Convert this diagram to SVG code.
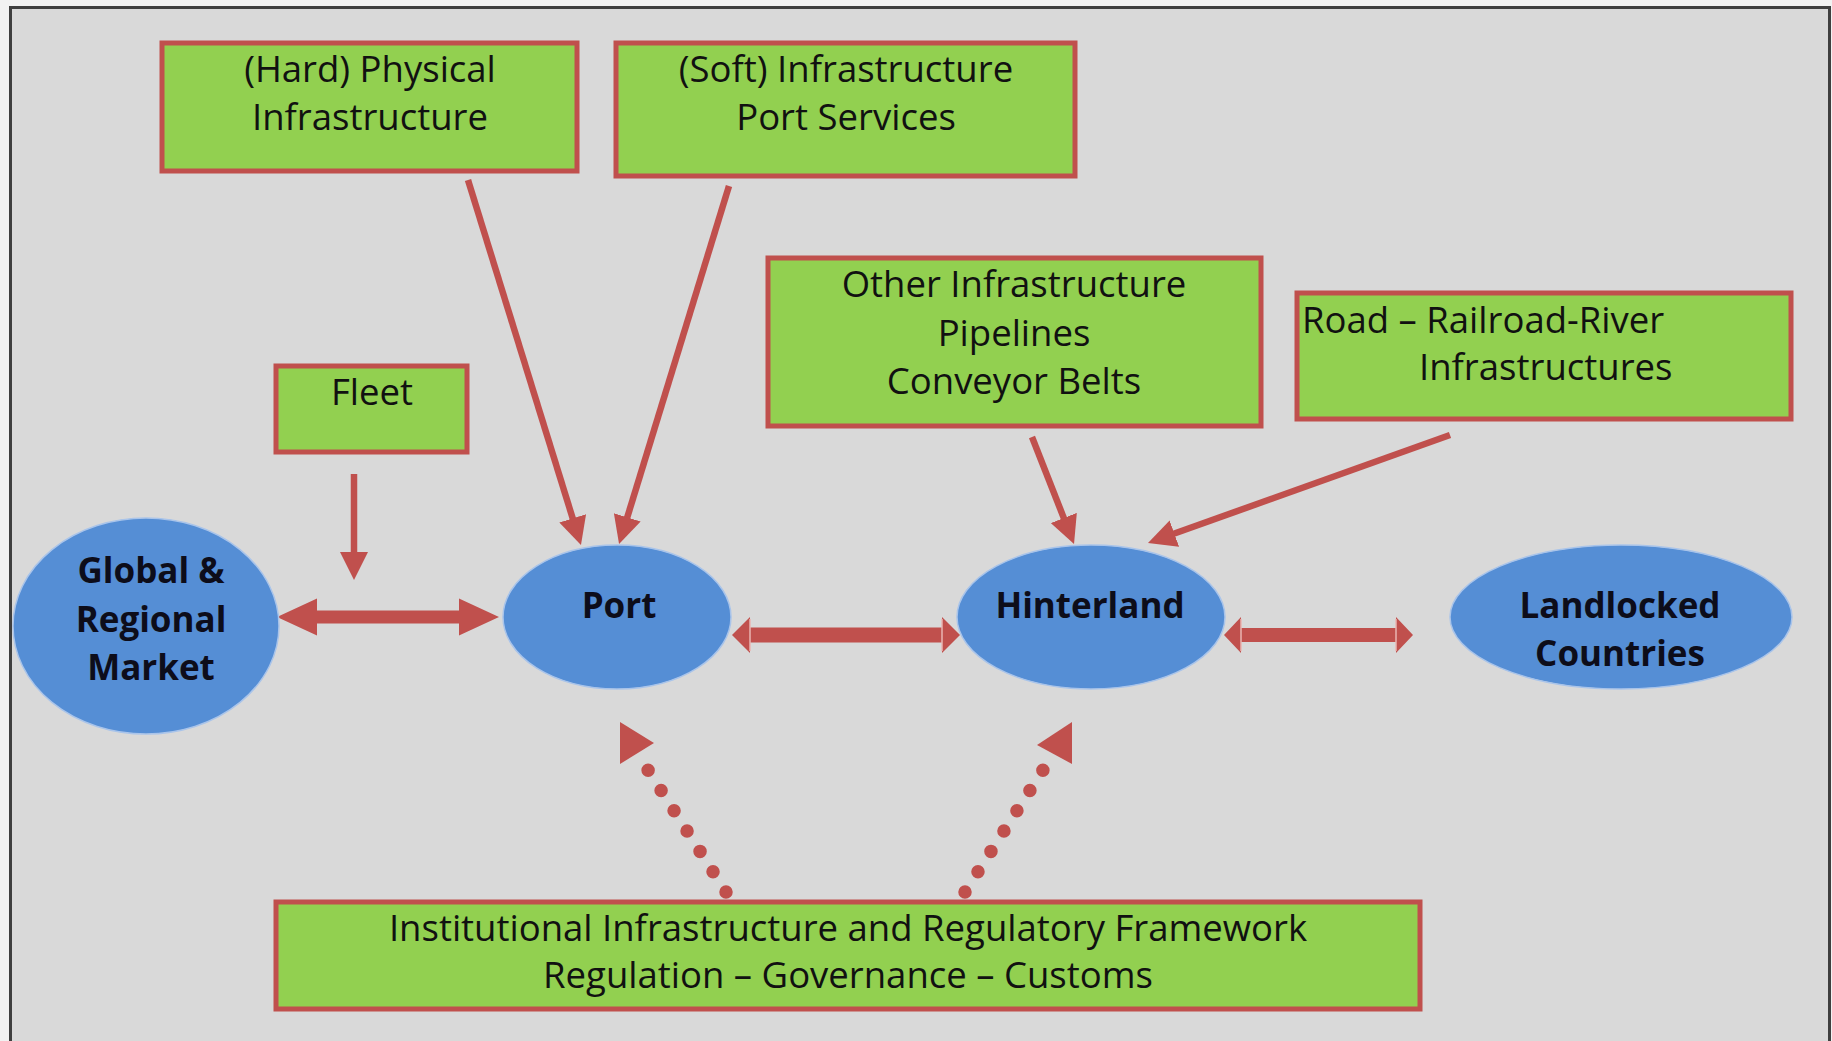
<svg xmlns="http://www.w3.org/2000/svg" width="1832" height="1041" viewBox="0 0 1832 1041">
<defs>
<style>
.box{fill:#92d050;stroke:#c0504d;stroke-width:5}
.ell{fill:#558ed5;stroke:#a9c4ea;stroke-width:1.5}
.bt{font-family:"Open Sans","Liberation Sans",sans-serif;font-size:36.5px;fill:#111}
.et{font-family:"Open Sans","Liberation Sans",sans-serif;font-size:35px;font-weight:bold;fill:#0d0d1a;text-anchor:middle}
.c{text-anchor:middle}
.ln{stroke:#c0504d;stroke-width:6.5;fill:none}
.dot{stroke:#c0504d;stroke-width:13.5;stroke-linecap:round;stroke-dasharray:0 24.1;fill:none}
.red{fill:#c0504d}
.hl{stroke:#eab4b2;stroke-width:1.5}
</style>
<marker id="ah" markerUnits="userSpaceOnUse" markerWidth="28" markerHeight="28" refX="20" refY="14" orient="auto">
<path d="M0,0 L28,14 L0,28 z" fill="#c0504d"/>
</marker>
</defs>
<rect x="0" y="0" width="1832" height="1041" fill="#f2f2f2"/>
<rect x="10.5" y="7.5" width="1819" height="1040" fill="#d9d9d9" stroke="#3f3f3f" stroke-width="3"/>

<g id="connectors">
<line class="ln" x1="468" y1="180" x2="578.6" y2="537.4" marker-end="url(#ah)"/>
<line class="ln" x1="729" y1="186" x2="621.4" y2="536.4" marker-end="url(#ah)"/>
<line class="ln" x1="354" y1="474" x2="354" y2="572" marker-end="url(#ah)"/>
<line class="ln" x1="1032" y1="437" x2="1071.1" y2="536.6" marker-end="url(#ah)"/>
<line class="ln" x1="1450" y1="435" x2="1155.5" y2="540.3" marker-end="url(#ah)"/>
<polygon class="red" points="277,617 317,598.5 317,610.5 459,610.5 459,598.5 499,617 459,635.5 459,623.5 317,623.5 317,635.5"/>
<polygon class="red" points="732,635 750,617 750,627.5 942,627.5 942,617 960,635 942,653 942,642.5 750,642.5 750,653"/>
<line class="hl" x1="750" y1="619" x2="750" y2="651"/>
<line class="hl" x1="942" y1="619" x2="942" y2="651"/>
<polygon class="red" points="1224,635 1241,617 1241,628 1396,628 1396,617 1413,635 1396,653 1396,642 1241,642 1241,653"/>
<line class="hl" x1="1241" y1="619" x2="1241" y2="651"/>
<line class="hl" x1="1396" y1="619" x2="1396" y2="651"/>
<line class="dot" x1="726" y1="892" x2="648" y2="770"/>
<polygon class="red" points="620,722 620,764 654,743"/>
<line class="dot" x1="965" y1="892" x2="1043" y2="770"/>
<polygon class="red" points="1072,722 1072,764 1037,745"/>
</g>

<g id="hard">
<rect class="box" x="162" y="43" width="415" height="128"/>
<text class="bt c" x="370" y="82">(Hard) Physical</text>
<text class="bt c" x="370" y="130">Infrastructure</text>
</g>
<g id="soft">
<rect class="box" x="616" y="43" width="459" height="133"/>
<text class="bt c" x="846" y="82">(Soft) Infrastructure</text>
<text class="bt c" x="846" y="130">Port Services</text>
</g>
<g id="fleet">
<rect class="box" x="276" y="366" width="191" height="86"/>
<text class="bt c" x="372" y="405">Fleet</text>
</g>
<g id="other">
<rect class="box" x="768" y="258" width="493" height="168"/>
<text class="bt c" x="1014" y="297">Other Infrastructure</text>
<text class="bt c" x="1014" y="346">Pipelines</text>
<text class="bt c" x="1014" y="394">Conveyor Belts</text>
</g>
<g id="road">
<rect class="box" x="1297" y="293" width="494" height="126"/>
<text class="bt" x="1302" y="333">Road – Railroad-River</text>
<text class="bt" x="1419" y="380">Infrastructures</text>
</g>
<g id="institutional">
<rect class="box" x="276" y="902" width="1144" height="107"/>
<text class="bt c" x="848" y="941">Institutional Infrastructure and Regulatory Framework</text>
<text class="bt c" x="848" y="988">Regulation – Governance – Customs</text>
</g>
<g id="global">
<ellipse class="ell" cx="146" cy="626" rx="133" ry="108"/>
<text class="et" x="151" y="583">Global &amp;</text>
<text class="et" x="151" y="632">Regional</text>
<text class="et" x="151" y="680">Market</text>
</g>
<g id="port">
<ellipse class="ell" cx="617" cy="617" rx="114" ry="72"/>
<text class="et" x="619" y="618">Port</text>
</g>
<g id="hinterland">
<ellipse class="ell" cx="1091" cy="617" rx="134" ry="72"/>
<text class="et" x="1090" y="618">Hinterland</text>
</g>
<g id="landlocked">
<ellipse class="ell" cx="1621" cy="617" rx="171" ry="72"/>
<text class="et" x="1620" y="618">Landlocked</text>
<text class="et" x="1620" y="666">Countries</text>
</g>
</svg>
